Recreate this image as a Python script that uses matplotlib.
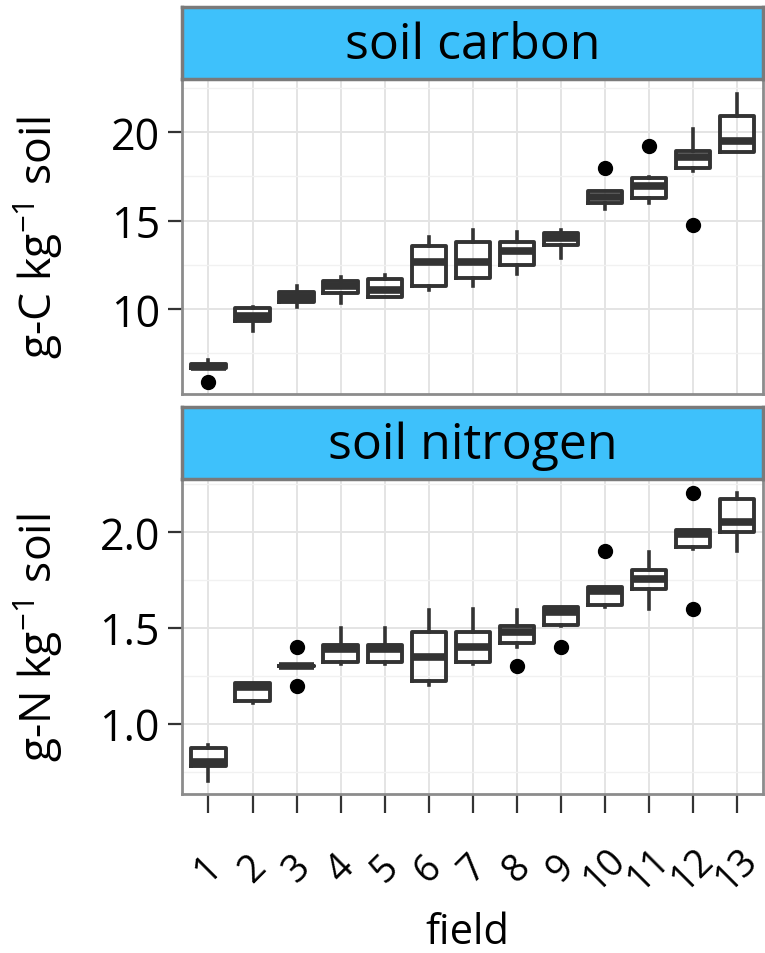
import matplotlib.pyplot as plt
from matplotlib.ticker import MultipleLocator

plt.rcParams['font.family'] = ['Open Sans', 'DejaVu Sans']
plt.rcParams['mathtext.fontset'] = 'custom'
plt.rcParams['mathtext.rm'] = 'Open Sans'

fields = [str(i) for i in range(1, 14)]

# soil carbon, g-C per kg soil: whisker low, q1, median, q3, whisker high
c_wlo = [6.65, 8.75, 10.1, 10.35, 10.7, 11.1, 11.3, 12.0, 12.9, 15.65, 16.0, 17.8, 18.9]
c_q1 = [6.65, 9.3, 10.4, 10.9, 10.7, 11.3, 11.75, 12.5, 13.6, 16.0, 16.3, 17.95, 18.9]
c_med = [6.75, 9.6, 10.7, 11.3, 11.1, 12.65, 12.65, 13.3, 14.0, 16.35, 16.95, 18.6, 19.5]
c_q3 = [6.9, 10.05, 10.95, 11.6, 11.7, 13.55, 13.8, 13.8, 14.3, 16.65, 17.4, 18.95, 20.9]
c_whi = [7.1, 10.1, 11.3, 11.8, 11.95, 14.1, 14.45, 14.35, 14.45, 16.65, 17.45, 20.2, 22.15]
c_out = [[5.9], [], [], [], [], [], [], [], [], [17.95], [19.2], [14.75], []]

# soil nitrogen, g-N per kg soil
n_wlo = [0.70, 1.11, 1.30, 1.31, 1.31, 1.20, 1.31, 1.40, 1.51, 1.61, 1.60, 1.91, 1.90]
n_q1 = [0.78, 1.12, 1.30, 1.32, 1.32, 1.22, 1.32, 1.42, 1.515, 1.62, 1.70, 1.92, 2.00]
n_med = [0.80, 1.19, 1.30, 1.39, 1.39, 1.35, 1.40, 1.48, 1.58, 1.69, 1.755, 1.99, 2.05]
n_q3 = [0.875, 1.21, 1.30, 1.41, 1.41, 1.48, 1.48, 1.51, 1.61, 1.71, 1.80, 2.01, 2.17]
n_whi = [0.89, 1.21, 1.30, 1.50, 1.50, 1.59, 1.60, 1.59, 1.61, 1.71, 1.895, 2.01, 2.20]
n_out = [[], [], [1.40, 1.195], [], [], [], [], [1.30], [1.40], [1.90], [], [2.20, 1.60], []]

STRIP = '#3ec1fb'
BORDER = '#8c8c8c'


def box_stats(wlo, q1, med, q3, whi, out):
    return [dict(whislo=a, q1=b, med=c, q3=d, whishi=e, fliers=f)
            for a, b, c, d, e, f in zip(wlo, q1, med, q3, whi, out)]


def panel(ax, sax, stats, title, ylim, major, ylabel):
    ax.bxp(stats, positions=range(1, 14), widths=0.78, showcaps=False,
           boxprops=dict(color='#333333', linewidth=2.8),
           whiskerprops=dict(color='#333333', linewidth=2.6),
           medianprops=dict(color='#333333', linewidth=5.5, solid_capstyle='butt'),
           flierprops=dict(marker='o', markerfacecolor='black', markeredgecolor='black',
                           markersize=10))
    ax.set_xlim(0.4, 13.6)
    ax.set_ylim(*ylim)
    ax.yaxis.set_major_locator(MultipleLocator(major))
    ax.yaxis.set_minor_locator(MultipleLocator(major / 2))
    ax.set_axisbelow(True)
    ax.grid(which='major', color='#e4e4e4', linewidth=1.4)
    ax.grid(which='minor', axis='y', color='#f1f1f1', linewidth=1.0)
    for s in ax.spines.values():
        s.set_color(BORDER)
        s.set_linewidth(2)
    ax.tick_params(axis='both', which='major', length=10, width=1.6, color='#333333',
                   labelsize=31, pad=6)
    ax.tick_params(which='minor', length=0)
    ax.set_ylabel(ylabel, fontsize=32)
    ax.yaxis.set_label_coords(-0.20, 0.5)

    sax.set_facecolor(STRIP)
    sax.set_xticks([])
    sax.set_yticks([])
    for s in sax.spines.values():
        s.set_color('#7a7a7a')
        s.set_linewidth(2.5)
    sax.text(0.5, 0.47, title, ha='center', va='center', fontsize=36,
             transform=sax.transAxes)


fig = plt.figure(figsize=(7.65, 9.54), dpi=100)

ax1 = fig.add_axes([0.238, 0.586, 0.760, 0.330])
s1 = fig.add_axes([0.238, 0.916, 0.760, 0.076])
ax2 = fig.add_axes([0.238, 0.167, 0.760, 0.330])
s2 = fig.add_axes([0.238, 0.497, 0.760, 0.075])

panel(ax1, s1, box_stats(c_wlo, c_q1, c_med, c_q3, c_whi, c_out), 'soil carbon',
      (5.2, 23.0), 5, 'g-C kg$^{-1}$ soil')
panel(ax2, s2, box_stats(n_wlo, n_q1, n_med, n_q3, n_whi, n_out), 'soil nitrogen',
      (0.635, 2.276), 0.5, 'g-N kg$^{-1}$ soil')

ax1.tick_params(axis='x', length=0, labelbottom=False)
ax1.yaxis.set_major_formatter(lambda v, p: f'{v:.0f}')
ax2.yaxis.set_major_formatter(lambda v, p: f'{v:.1f}')
ax2.set_xticks(range(1, 14))
ax2.set_xticklabels(fields, rotation=45, ha='center', va='center',
                    rotation_mode='anchor', fontsize=27)
ax2.tick_params(axis='x', length=14, pad=40)

fig.text(0.611, 1 - 933 / 954, 'field', ha='center', va='center', fontsize=30)

fig.savefig('out.png', dpi=100)
